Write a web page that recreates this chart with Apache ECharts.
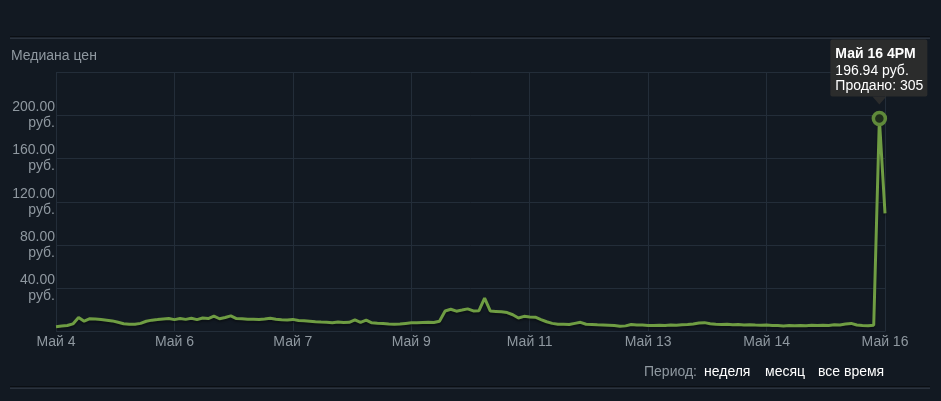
<!DOCTYPE html>
<html>
<head>
<meta charset="utf-8">
<script src="https://cdn.jsdelivr.net/npm/echarts@6/dist/echarts.min.js"></script>
<style>
html,body{margin:0;padding:0;background:#121922;}
#c{width:941px;height:401px;}
</style>
</head>
<body>
<div id="c"></div>
<script>
// ---- data ----
const tickLabels = ['Май 4','Май 6','Май 7','Май 9','Май 11','Май 13','Май 14','Май 16'];
const yTicks = [0, 40, 80, 120, 160, 200, 240];
// median price, roughly every 2 hours from May 4 to May 16
const prices = [
  4.5, 5.0, 5.5, 7.0, 13.0, 9.5, 11.8, 11.5, 11.0, 10.5,
  9.8, 8.5, 7.2, 6.8, 6.7, 7.5, 9.5, 10.5, 11.0, 11.6,
  12.0, 11.0, 12.0, 11.2, 12.2, 11.0, 12.5, 12.0, 14.2, 11.8,
  12.9, 14.4, 12.0, 11.8, 11.3, 11.3, 11.0, 11.5, 12.2, 11.3,
  10.8, 10.7, 11.2, 10.2, 10.0, 9.5, 9.0, 8.7, 8.5, 8.2,
  8.7, 8.3, 8.5, 10.7, 8.5, 10.5, 8.0, 7.7, 7.5, 7.0,
  6.7, 7.0, 7.5, 8.0, 8.2, 8.4, 8.6, 8.3, 9.5, 19.0,
  20.6, 18.8, 19.8, 20.9, 19.0, 19.2, 30.8, 19.0, 18.6, 18.2,
  17.5, 15.5, 12.5, 14.0, 13.5, 13.2, 11.0, 9.0, 7.5, 6.7,
  6.7, 6.5, 7.5, 8.5, 6.7, 6.5, 6.2, 6.0, 5.8, 5.5,
  4.8, 5.2, 6.5, 6.0, 6.0, 5.6, 5.5, 5.8, 5.6, 6.0,
  5.8, 6.2, 6.4, 7.0, 7.8, 8.2, 7.2, 6.8, 6.5, 6.8,
  6.2, 6.5, 6.0, 6.3, 6.0, 5.8, 6.0, 5.6, 5.5, 5.2,
  5.5, 5.3, 5.6, 5.4, 5.8, 5.5, 5.8, 5.6, 6.2, 6.0,
  7.0, 7.5, 6.0, 5.6, 5.4, 5.8, 196.94, 109.3
];
const highlightIndex = 146;
const highlightTitle = 'Май 16 4PM';
const highlightPrice = '196.94 руб.';
const highlightSold = 'Продано: 305';
const categories = prices.map((_, i) => 'p' + i);
const labelStep = (prices.length - 1) / (tickLabels.length - 1); // 21

// ---- chart ----
const chart = echarts.init(document.getElementById('c'), null, {renderer: 'canvas'});
const green = '#6f9d43';
const gridColor = '#232d39';
const textGrey = '#8f98a0';
const font = 'Arial, "Liberation Sans", sans-serif';

const seriesData = prices.map((v, i) => i === highlightIndex ? {
  value: v,
  symbol: 'circle',
  symbolSize: 12,
  itemStyle: {color: '#1f2e1c', borderColor: '#5f8a3a', borderWidth: 3.5}
} : {value: v, symbol: 'none'});

chart.setOption({
  backgroundColor: '#121922',
  animation: false,
  textStyle: {fontFamily: font},
  title: {
    text: 'Медиана цен', left: 11, top: 49, padding: 0,
    textStyle: {color: textGrey, fontSize: 14, fontWeight: 'normal', fontFamily: font}
  },
  grid: {left: 56, right: 56, top: 72, bottom: 69.5, containLabel: false},
  xAxis: {
    type: 'category', data: categories, boundaryGap: false,
    axisLine: {show: false},
    axisTick: {show: false, interval: labelStep - 1},
    splitLine: {show: true, interval: labelStep - 1, lineStyle: {color: gridColor, width: 1}},
    axisLabel: {
      interval: labelStep - 1, color: textGrey, fontSize: 14, margin: 4, fontFamily: font,
      formatter: (v, idx) => tickLabels[Math.round(idx / labelStep)]
    }
  },
  yAxis: {
    type: 'value', min: yTicks[0], max: yTicks[yTicks.length - 1], interval: 40,
    axisLine: {show: false}, axisTick: {show: false},
    splitLine: {show: true, lineStyle: {color: gridColor, width: 1}},
    axisLabel: {
      color: textGrey, fontSize: 14, margin: 1, lineHeight: 16, align: 'right', fontFamily: font,
      formatter: v => (v === yTicks[0] || v === yTicks[yTicks.length - 1]) ? '' : v.toFixed(2) + '\nруб.'
    }
  },
  series: [{
    type: 'line', data: seriesData, showSymbol: true, showAllSymbol: true,
    lineStyle: {color: green, width: 3, shadowColor: 'rgba(0,0,0,0.35)', shadowBlur: 2, shadowOffsetY: 2},
    itemStyle: {color: green},
    z: 3
  }]
});

// tooltip-like box anchored at the highlighted point
const pt = chart.convertToPixel({seriesIndex: 0}, [highlightIndex, prices[highlightIndex]]);
const bx = pt[0] - 49, by = pt[1] - 79, bw = 97, bh = 57;
chart.setOption({
  graphic: [
    // top separator
    {type: 'rect', shape: {x: 10, y: 36, width: 920, height: 1}, style: {fill: '#0a0e13'}, silent: true},
    {type: 'rect', shape: {x: 10, y: 37.5, width: 920, height: 1.5}, style: {fill: '#2a323d'}, silent: true},
    // bottom separator
    {type: 'rect', shape: {x: 10, y: 386, width: 920, height: 1}, style: {fill: '#0a0e13'}, silent: true},
    {type: 'rect', shape: {x: 10, y: 387.5, width: 920, height: 1.5}, style: {fill: '#2a323d'}, silent: true},
    // period selector
    {type: 'text', left: 644, top: 365, style: {text: 'Период:', fill: textGrey, font: '14px ' + font}},
    {type: 'text', left: 704, top: 365, style: {text: 'неделя', fill: '#ffffff', font: '14px ' + font}},
    {type: 'text', left: 765, top: 365, style: {text: 'месяц', fill: '#ffffff', font: '14px ' + font}},
    {type: 'text', left: 818, top: 365, style: {text: 'все время', fill: '#ffffff', font: '14px ' + font}},
    // tooltip
    {type: 'group', z: 100, children: [
      {type: 'rect', shape: {x: bx, y: by, width: bw, height: bh, r: 2}, style: {fill: 'rgba(45,45,45,0.95)'}},
      {type: 'polygon', shape: {points: [[pt[0] - 7, by + bh], [pt[0] + 7, by + bh], [pt[0], by + bh + 8]]}, style: {fill: 'rgba(45,45,45,0.95)'}},
      {type: 'text', style: {x: bx + 5, y: by + 8, text: highlightTitle, fill: '#ffffff', font: 'bold 14px ' + font}},
      {type: 'text', style: {x: bx + 5, y: by + 25, text: highlightPrice, fill: '#ffffff', font: '14px ' + font}},
      {type: 'text', style: {x: bx + 5, y: by + 40, text: highlightSold, fill: '#ffffff', font: '14px ' + font}}
    ]}
  ]
});
</script>
</body>
</html>
